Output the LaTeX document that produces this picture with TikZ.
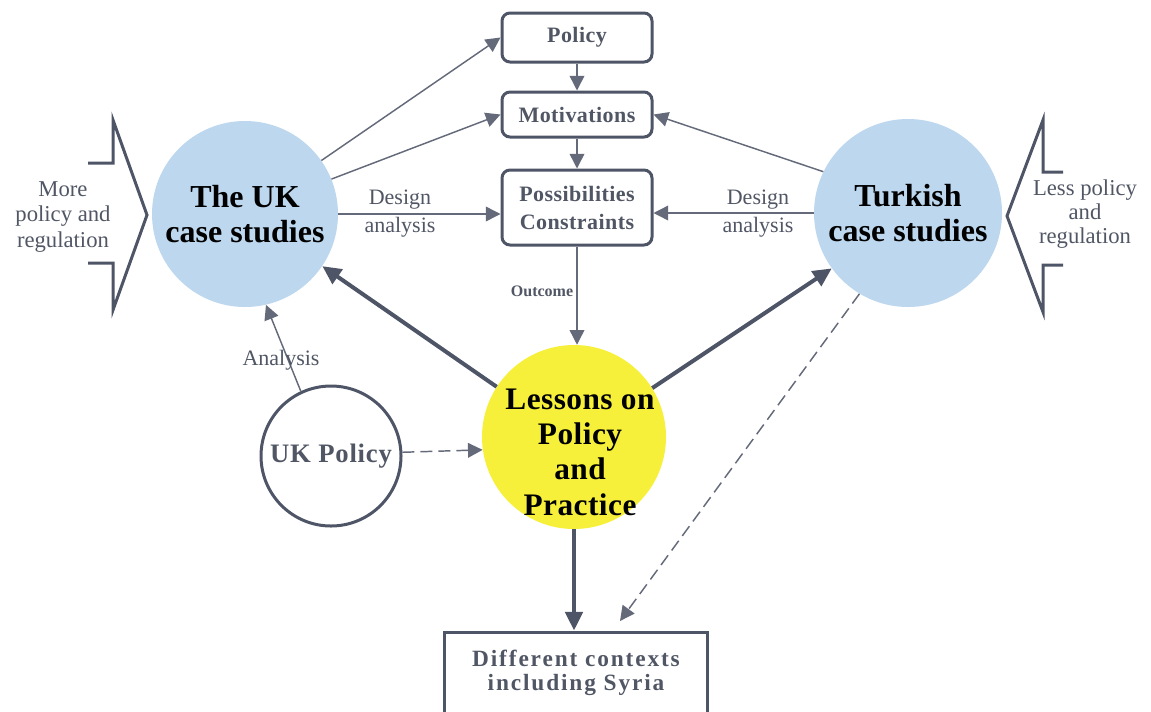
\documentclass[tikz,border=0pt]{standalone}
\usepackage{fontspec}
\setmainfont{Liberation Serif}
\usetikzlibrary{arrows.meta,calc}
\definecolor{darkc}{RGB}{78,85,103}
\definecolor{thinc}{RGB}{100,106,122}
\definecolor{txtc}{RGB}{80,86,100}
\definecolor{lblue}{RGB}{189,215,238}
\definecolor{lyellow}{RGB}{246,240,58}
\newcommand{\fs}[2]{\fontsize{#1}{#2}\selectfont}
\tikzset{
  boxn/.style={draw=darkc,line width=2.25pt,rounded corners=6pt,minimum width=112.5pt,inner sep=0pt,align=center,text=txtc,font=\fs{16.5}{21}\bfseries\addfontfeature{LetterSpace=2}},
  circn/.style={circle,inner sep=0pt,align=center,font=\fs{24}{26.5}\bfseries},
  thinarr/.style={draw=thinc,line width=1.1pt,-{Triangle[length=11pt,width=11pt]}},
  thickarr/.style={draw=darkc,line width=3pt,-{Triangle[length=14pt,width=13pt]}},
  dasharr/.style={draw=thinc,line width=1.1pt,dash pattern=on 9pt off 4.5pt,-{Triangle[length=11pt,width=11pt]}},
  lbl/.style={align=center,text=txtc,font=\fs{16.5}{21}},
  chev/.style={draw=darkc,line width=2.25pt,line join=miter},
}
\begin{document}
\begin{tikzpicture}[x=0.75pt,y=-0.75pt]
\useasboundingbox (0,0) rectangle (1151,711);
\clip (0,0) rectangle (1151,711);
% boxes
\node[boxn,minimum height=36.75pt] (policy) at (577,37.5) {Policy};
\node[boxn,minimum height=33.75pt] (motiv) at (577,114.5) {Motivations};
\node[boxn,minimum height=56.25pt] (poss) at (577,207.5) {Possibilities\\Constraints};
% circles
\node[circn,fill=lblue,minimum size=139.5pt] (uk) at (245,214) {The UK\\case studies};
\node[circn,fill=lblue,minimum size=141pt] (tr) at (908,213) {Turkish\\case studies};
\node[circle,fill=lyellow,minimum size=138pt,inner sep=0pt] (lessons) at (574,437) {};
\node[align=center,font=\fs{23.5}{26.5}\bfseries\addfontfeature{LetterSpace=1.5}] (lessonstxt) at (580,452) {Lessons on\\Policy\\and\\Practice};
\node[circle,draw=darkc,line width=2.25pt,fill=white,minimum size=105pt,inner sep=0pt,text=txtc,font=\fs{20}{21}\bfseries\addfontfeature{LetterSpace=3}] (ukp) at (331,456) {UK Policy};
\node[draw=darkc,line width=2.25pt,minimum width=197.25pt,minimum height=61.5pt,inner sep=0pt,align=center,text=txtc,font=\fs{17.5}{18}\bfseries\addfontfeature{LetterSpace=8}] (diff) at (576,673) {Different contexts\\including Syria};
% chevrons
\draw[chev] (88,163) -- (113,163) -- (113,120) -- (147,215) -- (113,310) -- (113,263) -- (88,263);
\draw[chev] (1063,172) -- (1043,172) -- (1043,120) -- (1007,216) -- (1043,312) -- (1043,265) -- (1063,265);
\node[align=center,text=txtc,font=\fs{17}{19}] (more) at (63,217) {More\\policy and\\regulation};
\node[align=center,text=txtc,font=\fs{17}{18}] (less) at (1085,214) {Less policy\\and\\regulation};
% connectors
\draw[thinarr] (policy) -- (motiv);
\draw[thinarr] (motiv) -- (poss);
\draw[thinarr] (uk.35) -- (policy.west);
\draw[thinarr] (uk.22) -- (motiv.west);
\draw[thinarr] (tr.154) -- (motiv.east);
\draw[thinarr] (uk.east) -- (uk.east -| poss.west);
\draw[thinarr] (tr.west) -- (tr.west -| poss.east);
\node[lbl] (da1) at (400,214) {Design\\analysis};
\node[lbl] (da2) at (758,214) {Design\\analysis};
\draw[thinarr] (poss.south) -- (poss.south |- lessons.north);
\node[text=txtc,font=\fs{12}{12}\bfseries] (outc) at (542,291) {Outcome};
\draw[thickarr] (lessons.147) -- (uk.-34);
\draw[thickarr] (lessons.32) -- (tr.216);
\draw[thickarr] (lessons.south) -- (lessons.south |- diff.north);
\coordinate (dashend) at (620,621);
\draw[dasharr] (tr.239) -- (dashend);
\draw[dasharr] (ukp.3) -- (lessons.188);
\draw[thinarr] (ukp.115) -- (uk.-77);
\node[lbl] (anl) at (281,360) {Analysis};
\end{tikzpicture}
\end{document}
